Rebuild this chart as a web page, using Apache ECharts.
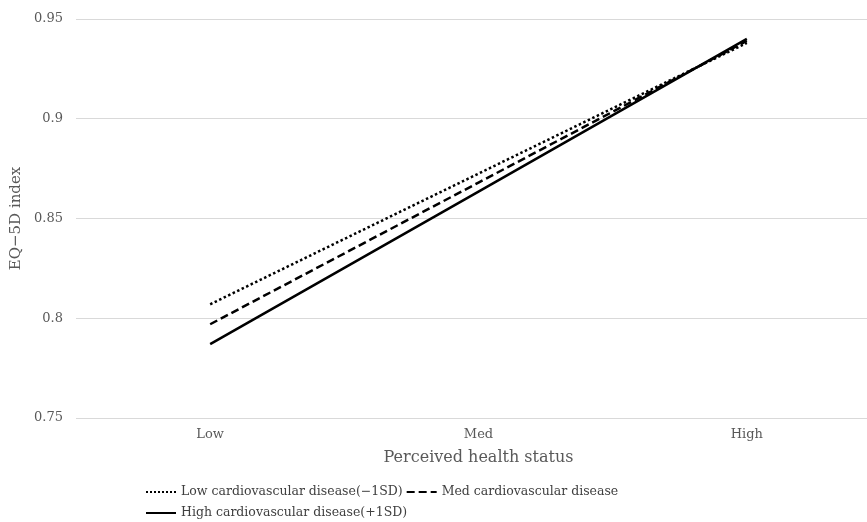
<!DOCTYPE html>
<html><head><meta charset="utf-8">
<script src="https://cdn.jsdelivr.net/npm/echarts@6/dist/echarts.min.js"></script>
<style>html,body{margin:0;padding:0;background:#fff}#c{width:867px;height:522px}</style>
</head><body><div id="c"></div>
<script>
const categories = ['Low', 'Med', 'High'];
const seriesNames = ['Low cardiovascular disease(−1SD)', 'Med cardiovascular disease', 'High cardiovascular disease(+1SD)'];
const lowCVD = [0.807, 0.8725, 0.938];
const medCVD = [0.797, 0.868, 0.939];
const highCVD = [0.787, 0.8635, 0.940];
const yTicks = [0.75, 0.8, 0.85, 0.9, 0.95];

const font = '"DejaVu Serif", "Liberation Serif", serif';
const chart = echarts.init(document.getElementById('c'));
const dashes = ['dotted', [8, 4], 'solid'];
const datas = [lowCVD, medCVD, highCVD];
chart.setOption({
  animation: false,
  grid: { left: 76, width: 805, top: 19, height: 399, outerBoundsMode: 'none', containLabel: false },
  xAxis: {
    type: 'category', data: categories, boundaryGap: true,
    axisLine: { show: false }, axisTick: { show: false },
    axisLabel: { color: '#595959', fontFamily: font, fontSize: 13, margin: 10 },
    name: 'Perceived health status', nameLocation: 'middle', nameGap: 32,
    nameTextStyle: { color: '#595959', fontFamily: font, fontSize: 16 }
  },
  yAxis: {
    type: 'value', min: 0.75, max: 0.95, interval: 0.05,
    axisLine: { show: false }, axisTick: { show: false },
    splitLine: { lineStyle: { color: '#d9d9d9', width: 1 } },
    axisLabel: { color: '#595959', fontFamily: font, fontSize: 13, margin: 13,
      formatter: v => { const t = yTicks.find(x => Math.abs(x - v) < 1e-9); return t === undefined ? '' : String(t); } },
    name: 'EQ−5D index', nameLocation: 'middle', nameGap: 51,
    nameTextStyle: { color: '#595959', fontFamily: font, fontSize: 15 }
  },
  legend: {
    left: 145, top: 483, width: 500, itemWidth: 30, itemHeight: 18, itemGap: 3,
    padding: 0,
    itemStyle: { opacity: 0 },
    textStyle: { color: '#404040', fontFamily: font, fontSize: 12.5, lineHeight: 18 },
    data: seriesNames
  },
  series: datas.map((d, i) => ({
    name: seriesNames[i], type: 'line', data: d, symbol: 'none',
    lineStyle: { color: '#000', width: 2.5, type: dashes[i] },
    itemStyle: { color: '#000' }
  }))
});
</script></body></html>
